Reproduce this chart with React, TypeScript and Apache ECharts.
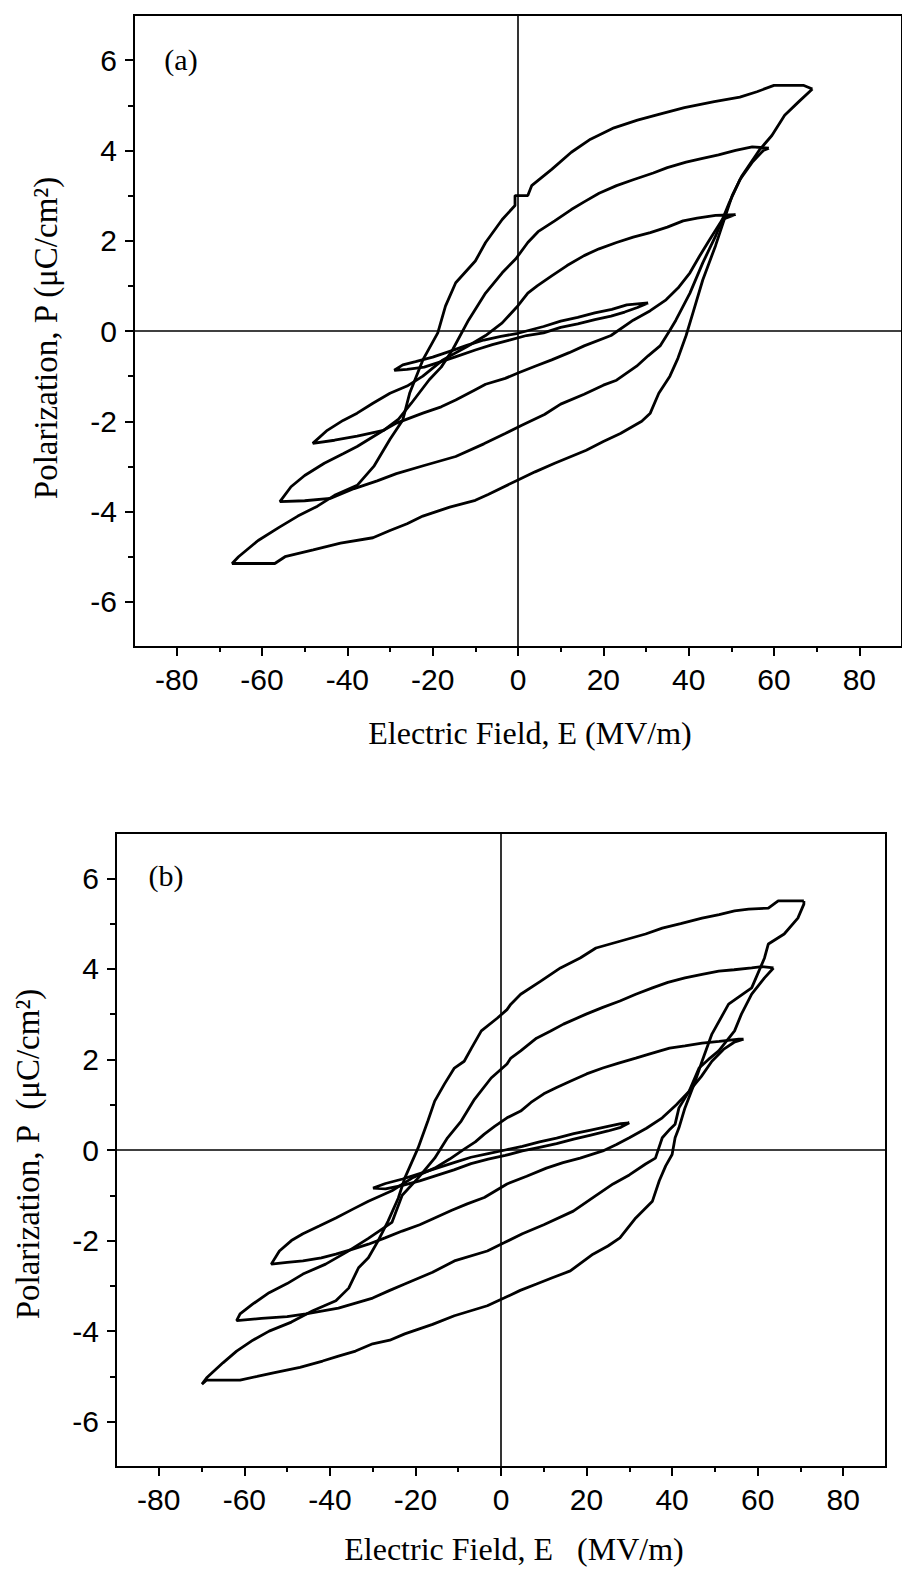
import React, { useEffect, useRef } from "react";
import * as echarts from "echarts";

// Tick values
const xMajorTicks = [-80, -60, -40, -20, 0, 20, 40, 60, 80];
const xMinorTicks = [-70, -50, -30, -10, 10, 30, 50, 70];
const yMajorTicks = [-6, -4, -2, 0, 2, 4, 6];
const yMinorTicks = [-5, -3, -1, 1, 3, 5];

// Panel (a) loops: [E (MV/m), P (uC/cm2)]
const loopA1 = [
  [69, 5.36], [67, 5.44], [60, 5.44], [56, 5.3], [52, 5.18], [46, 5.08], [39, 4.95], [33, 4.8], [28, 4.67],
  [22.5, 4.5], [17, 4.25], [12.5, 3.96], [7.9, 3.58], [3.2, 3.22], [2.3, 3.0], [-0.7, 3.0], [-0.7, 2.78],
  [-3.7, 2.47], [-7.6, 1.96], [-10, 1.55], [-14.6, 1.07], [-17, 0.55], [-18.8, -0.04], [-22.3, -0.64],
  [-25.4, -1.38], [-27, -1.97], [-30, -2.4], [-33.8, -3.0], [-37.7, -3.42], [-43, -3.64], [-47, -3.88],
  [-51.6, -4.1], [-56, -4.35], [-60.9, -4.64], [-65.5, -5.0], [-67, -5.15],
  [-57, -5.15], [-54.6, -5.0], [-48, -4.85], [-41.6, -4.7], [-34, -4.58], [-30, -4.42], [-26, -4.27],
  [-22.3, -4.1], [-16, -3.9], [-10, -3.75], [-7, -3.62], [0, -3.3], [4, -3.12], [8.6, -2.93], [16, -2.64],
  [20, -2.45], [24, -2.27], [29, -2.0], [31, -1.82], [33, -1.38], [35.6, -1.0], [37.5, -0.6], [39.4, -0.1],
  [41, 0.4], [43.3, 1.13], [46.3, 1.89], [50.2, 3.0], [52.5, 3.44], [56.5, 4.0], [59.5, 4.33], [62.5, 4.78],
  [65.7, 5.07], [69, 5.36],
];
const loopA2 = [
  [58.8, 4.05], [54.9, 4.08], [51, 4.0], [47, 3.9], [43, 3.82], [39.4, 3.74], [35, 3.62], [31.7, 3.5],
  [27, 3.35], [23.1, 3.22], [19, 3.05], [15.5, 2.86], [12.5, 2.69], [8.6, 2.44], [4.7, 2.2], [2.3, 1.96],
  [-0.5, 1.6], [-3.7, 1.29], [-7.6, 0.84], [-11.6, 0.24], [-15.3, -0.41], [-18, -0.8], [-20.8, -1.08],
  [-25, -1.6], [-28, -1.95], [-31.5, -2.2], [-37.7, -2.56], [-41, -2.72], [-45.4, -2.93], [-50, -3.2],
  [-53.2, -3.45], [-55.8, -3.78],
  [-50, -3.76], [-44, -3.71], [-38.4, -3.49], [-33, -3.32], [-28.5, -3.16], [-22, -2.98], [-14.6, -2.78],
  [-8, -2.5], [-3, -2.27], [0.9, -2.09], [6.2, -1.85], [10, -1.62], [15.5, -1.4], [20, -1.2], [23.1, -1.09],
  [27.8, -0.78], [30.5, -0.55], [33.3, -0.33], [35.5, 0.0], [37, 0.24], [40.3, 0.84], [43.3, 1.51],
  [46.3, 2.1], [49.5, 2.84], [52, 3.35], [55, 3.75], [57.5, 4.0], [58.8, 4.05],
];
const loopA3 = [
  [51, 2.58], [46.3, 2.56], [42, 2.5], [38.7, 2.44], [35, 2.3], [31, 2.18], [27, 2.08], [23.1, 1.96],
  [19, 1.82], [15.5, 1.67], [11.5, 1.45], [7.9, 1.22], [4.5, 1.0], [2.3, 0.84], [0, 0.56], [-3.7, 0.18],
  [-7.6, -0.1], [-12, -0.35], [-17.6, -0.64], [-22.3, -1.0], [-26, -1.22], [-30, -1.38], [-34, -1.6],
  [-37.7, -1.82], [-41, -1.98], [-44.7, -2.2], [-48.1, -2.49],
  [-43, -2.42], [-37.7, -2.33], [-31.5, -2.2], [-28.5, -2.04], [-22.3, -1.82], [-18, -1.68], [-14.6, -1.53],
  [-10, -1.3], [-7.6, -1.18], [-3, -1.05], [0, -0.93], [4, -0.78], [7.9, -0.64], [12, -0.48], [15.5, -0.33],
  [21.8, -0.1], [27, 0.24], [31, 0.45], [34.7, 0.69], [37.5, 0.95], [40.3, 1.29], [42.5, 1.65], [44.9, 2.02],
  [47.9, 2.47], [51, 2.58],
];
const loopA4 = [
  [30.5, 0.62], [28, 0.6], [25.5, 0.58], [22, 0.48], [18, 0.4], [14, 0.3], [10, 0.22], [6, 0.1], [2, 0.0],
  [0, -0.05], [-4, -0.12], [-8, -0.2], [-12, -0.32], [-16, -0.45], [-20, -0.58], [-24, -0.68], [-27, -0.75],
  [-29, -0.87],
  [-26, -0.85], [-22, -0.8], [-18, -0.68], [-14, -0.55], [-10, -0.42], [-6, -0.3], [-2, -0.2], [2, -0.1],
  [6, -0.04], [10, 0.08], [14, 0.16], [18, 0.25], [21.8, 0.33], [25, 0.42], [28, 0.52], [30.5, 0.62],
];

// Panel (b) loops
const loopB1 = [
  [70.8, 5.5], [64.8, 5.5], [62.5, 5.34], [57.9, 5.32], [54.6, 5.28], [51, 5.2], [47, 5.12], [42, 5.0],
  [37.7, 4.9], [33.8, 4.77], [27.8, 4.61], [22.2, 4.46], [18.5, 4.24], [13.9, 4.02], [9.3, 3.73], [4.6, 3.44],
  [2.3, 3.22], [1.4, 3.1], [-0.9, 2.91], [-4.6, 2.63], [-6.9, 2.25], [-8.6, 1.96], [-10.9, 1.81],
  [-13.2, 1.46], [-15.5, 1.08], [-17.1, 0.64], [-19.4, 0.04], [-22.5, -0.62], [-24, -1.06], [-26.4, -1.57],
  [-28.7, -2.0], [-31, -2.38], [-33.3, -2.6], [-35.6, -3.05], [-38.6, -3.33], [-44, -3.55], [-49, -3.8],
  [-54.2, -4.0], [-58, -4.2], [-61.8, -4.44], [-65, -4.7], [-68.8, -5.03], [-69.9, -5.17],
  [-68.8, -5.08], [-61, -5.08], [-57, -5.0], [-53.2, -4.92], [-47, -4.8], [-41.7, -4.66], [-38, -4.55],
  [-34, -4.44], [-30, -4.28], [-26, -4.2], [-22.5, -4.06], [-16, -3.85], [-10.9, -3.66], [-3.2, -3.44],
  [0.7, -3.27], [4.5, -3.1], [8.3, -2.96], [12, -2.82], [16.2, -2.67], [21.5, -2.3], [25, -2.12],
  [27.8, -1.94], [31.5, -1.5], [35.4, -1.13], [37, -0.68], [38.5, -0.35], [40, -0.1], [40.7, 0.27],
  [41.6, 0.49], [43, 0.93], [45.4, 1.52], [47, 1.96], [49.3, 2.56], [53.2, 3.22], [58.6, 3.58],
  [61.6, 4.24], [62.5, 4.55], [66.2, 4.77], [69.4, 5.12], [70.8, 5.43], [70.8, 5.5],
];
const loopB2 = [
  [63.7, 4.02], [61, 4.05], [58.6, 4.02], [54.5, 3.98], [50.9, 3.95], [47, 3.88], [43, 3.8], [39, 3.7],
  [35.4, 3.58], [31.5, 3.44], [27.8, 3.29], [23.8, 3.15], [19.9, 3.0], [14.6, 2.78], [11.5, 2.62],
  [8.3, 2.47], [4.6, 2.19], [2.3, 2.03], [1.4, 1.9], [-2.3, 1.59], [-6.2, 1.12], [-9.3, 0.64],
  [-12.5, 0.27], [-15.5, -0.18], [-19.4, -0.62], [-23.1, -1.0], [-25.5, -1.6], [-31, -1.95], [-36, -2.25],
  [-41, -2.52], [-46.3, -2.74], [-50, -2.95], [-54.2, -3.15], [-58, -3.4], [-61, -3.62], [-61.8, -3.77],
  [-56, -3.72], [-50, -3.68], [-45.6, -3.62], [-38, -3.49], [-34, -3.38], [-30, -3.27], [-26, -3.1],
  [-22.5, -2.96], [-16, -2.7], [-10.9, -2.45], [-3.2, -2.23], [0.7, -2.05], [5, -1.85], [10, -1.65],
  [16.9, -1.35], [22, -1.02], [26.2, -0.75], [30, -0.55], [33.8, -0.31], [36.1, -0.18], [37.7, 0.27],
  [39.5, 0.46], [40.7, 0.57], [41.6, 0.93], [44, 1.3], [46.3, 1.81], [48.5, 2.0], [50.9, 2.19],
  [54.6, 2.63], [56.2, 3.0], [58.6, 3.44], [61.6, 3.8], [63.7, 4.02],
];
const loopB3 = [
  [56.7, 2.45], [55.6, 2.45], [51, 2.4], [47, 2.36], [43, 2.3], [39.4, 2.25], [35, 2.13], [31.5, 2.03],
  [27.5, 1.92], [23.8, 1.81], [20, 1.68], [16.2, 1.52], [13, 1.38], [10, 1.24], [7, 1.05], [4.6, 0.86],
  [1.4, 0.71], [-1.5, 0.52], [-3.9, 0.35], [-6, 0.18], [-8.6, 0.02], [-12, -0.2], [-15.5, -0.4],
  [-20.8, -0.62], [-25.5, -0.9], [-31, -1.13], [-34.5, -1.3], [-38.6, -1.5], [-42.5, -1.68], [-46.3, -1.85],
  [-49, -2.0], [-51.8, -2.23], [-53.7, -2.52],
  [-50, -2.48], [-46.3, -2.45], [-42, -2.38], [-38.6, -2.3], [-35, -2.2], [-31, -2.08], [-27.1, -1.94],
  [-23.1, -1.79], [-19, -1.65], [-15.5, -1.5], [-11.5, -1.33], [-7.9, -1.19], [-3.9, -1.05], [1.4, -0.75],
  [6, -0.58], [10.6, -0.4], [14.5, -0.28], [18.5, -0.18], [23.8, -0.02], [27, 0.12], [30, 0.27], [34, 0.48],
  [37.7, 0.71], [41, 1.0], [44, 1.3], [46.8, 1.62], [49.3, 1.96], [52, 2.22], [54.5, 2.38], [56.7, 2.45],
];
const loopB4 = [
  [30, 0.6], [28, 0.58], [25, 0.52], [21, 0.44], [17, 0.36], [13, 0.26], [9, 0.18], [5, 0.08], [1, 0.0],
  [-3, -0.08], [-7, -0.16], [-11, -0.28], [-15, -0.4], [-19, -0.52], [-23, -0.64], [-27, -0.74],
  [-29.9, -0.84],
  [-27, -0.86], [-23, -0.78], [-19, -0.68], [-15, -0.56], [-11, -0.44], [-7, -0.3], [-3, -0.2], [1, -0.12],
  [5, -0.02], [9, 0.06], [13, 0.14], [17, 0.24], [21, 0.33], [25, 0.42], [28, 0.5], [30, 0.6],
];

const panelLabels = ["(a)", "(b)"];
const xTitles = ["Electric Field, E (MV/m)", "Electric Field, E   (MV/m)"];
const yTitles = ["Polarization, P (\u03bcC/cm\u00b2)", "Polarization, P  (\u03bcC/cm\u00b2)"];

const SANS = "'Liberation Sans', Arial, sans-serif";
const SERIF = "'Liberation Serif', 'Times New Roman', serif";

function makeXAxes(gridIndex: number) {
  const base = {
    gridIndex,
    type: "value" as const,
    min: -90,
    max: 90,
    interval: 10,
    position: "bottom" as const,
    splitLine: { show: false },
  };
  return [
    {
      ...base,
      axisLine: { show: true, onZero: false, lineStyle: { color: "#000", width: 2 } },
      axisTick: { show: true, customValues: xMajorTicks, length: 9, lineStyle: { color: "#000", width: 2 } },
      axisLabel: { show: true, customValues: xMajorTicks, margin: 17, fontSize: 30, color: "#000", fontFamily: SANS },
    },
    {
      ...base,
      axisLine: { show: false, onZero: false },
      axisTick: { show: true, customValues: xMinorTicks, length: 5, lineStyle: { color: "#000", width: 2 } },
      axisLabel: { show: false },
    },
  ];
}

function makeYAxes(gridIndex: number) {
  const base = {
    gridIndex,
    type: "value" as const,
    min: -7,
    max: 7,
    interval: 1,
    position: "left" as const,
    splitLine: { show: false },
  };
  return [
    {
      ...base,
      axisLine: { show: true, onZero: false, lineStyle: { color: "#000", width: 2 } },
      axisTick: { show: true, customValues: yMajorTicks, length: 9, lineStyle: { color: "#000", width: 2 } },
      axisLabel: { show: true, customValues: yMajorTicks, margin: 17, fontSize: 30, color: "#000", fontFamily: SANS },
    },
    {
      ...base,
      axisLine: { show: false, onZero: false },
      axisTick: { show: true, customValues: yMinorTicks, length: 6, lineStyle: { color: "#000", width: 2 } },
      axisLabel: { show: false },
    },
  ];
}

function loopSeries(data: number[][], axisIndex: number, withZeroLines: boolean) {
  const s: any = {
    type: "line",
    xAxisIndex: axisIndex,
    yAxisIndex: axisIndex,
    data,
    showSymbol: false,
    symbol: "none",
    smooth: false,
    lineStyle: { color: "#000", width: 2.8 },
    z: 3,
  };
  if (withZeroLines) {
    s.markLine = {
      silent: true,
      symbol: "none",
      animation: false,
      label: { show: false },
      lineStyle: { color: "#000", width: 1.6, type: "solid" },
      data: [{ xAxis: 0 }, { yAxis: 0 }],
    };
  }
  return s;
}

export default function App() {
  const ref = useRef<HTMLDivElement>(null);
  useEffect(() => {
    if (!ref.current) return;
    const chart = echarts.init(ref.current, undefined, { renderer: "svg" });
    const option: any = {
      animation: false,
      backgroundColor: "#fff",
      grid: [
        { left: 134, top: 15, width: 771, height: 632, show: true, borderColor: "#000", borderWidth: 2, backgroundColor: "transparent" },
        { left: 116, top: 833, width: 770, height: 634, show: true, borderColor: "#000", borderWidth: 2, backgroundColor: "transparent" },
      ],
      xAxis: [...makeXAxes(0), ...makeXAxes(1)],
      yAxis: [...makeYAxes(0), ...makeYAxes(1)],
      series: [
        loopSeries(loopA1, 0, true),
        loopSeries(loopA2, 0, false),
        loopSeries(loopA3, 0, false),
        loopSeries(loopA4, 0, false),
        loopSeries(loopB1, 2, true),
        loopSeries(loopB2, 2, false),
        loopSeries(loopB3, 2, false),
        loopSeries(loopB4, 2, false),
      ],
      graphic: [
        { type: "text", x: 181, y: 59, style: { text: panelLabels[0], font: `30px ${SERIF}`, fill: "#000", textAlign: "center", textVerticalAlign: "middle" } },
        { type: "text", x: 166, y: 875, style: { text: panelLabels[1], font: `30px ${SERIF}`, fill: "#000", textAlign: "center", textVerticalAlign: "middle" } },
        { type: "text", x: 530, y: 733, style: { text: xTitles[0], font: `32px ${SERIF}`, fill: "#000", textAlign: "center", textVerticalAlign: "middle" } },
        { type: "text", x: 514, y: 1549, style: { text: xTitles[1], font: `32px ${SERIF}`, fill: "#000", textAlign: "center", textVerticalAlign: "middle" } },
        { type: "text", x: 46, y: 338, rotation: Math.PI / 2, style: { text: yTitles[0], font: `33px ${SERIF}`, fill: "#000", textAlign: "center", textVerticalAlign: "middle" } },
        { type: "text", x: 28, y: 1154, rotation: Math.PI / 2, style: { text: yTitles[1], font: `33px ${SERIF}`, fill: "#000", textAlign: "center", textVerticalAlign: "middle" } },
      ],
    };
    chart.setOption(option);
    return () => chart.dispose();
  }, []);
  return <div ref={ref} style={{ position: "absolute", left: 0, top: 0, width: 902, height: 1570 }} />;
}
